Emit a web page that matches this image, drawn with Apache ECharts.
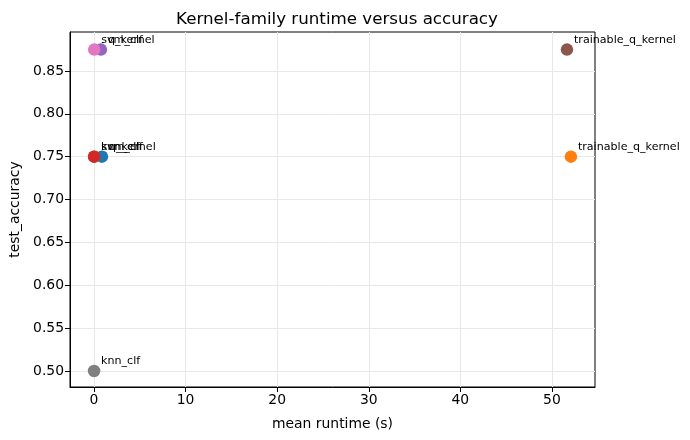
<!DOCTYPE html>
<html>
<head>
<meta charset="utf-8">
<script src="https://cdn.jsdelivr.net/npm/echarts@6/dist/echarts.min.js"></script>
<style>
  html, body { margin: 0; padding: 0; background: #fff; }
  #chart { width: 690px; height: 440px; }
</style>
</head>
<body>
<div id="chart"></div>
<script>
// one point per model run, in plotting order
var models = ['q_kernel', 'trainable_q_kernel', 'svm_clf', 'knn_clf',
              'q_kernel', 'trainable_q_kernel', 'svm_clf', 'knn_clf']
var runtimes = [0.87, 52.07, 0.02, 0.01, 0.76, 51.64, 0.02, 0.01]
var accuracies = [0.75, 0.75, 0.75, 0.75, 0.875, 0.875, 0.875, 0.5]
var xTicks = [0, 10, 20, 30, 40, 50]
var yTicks = [0.5, 0.55, 0.6, 0.65, 0.7, 0.75, 0.8, 0.85]

var palette = ['#1f77b4', '#ff7f0e', '#2ca02c', '#d62728',
               '#9467bd', '#8c564b', '#e377c2', '#7f7f7f']
var font = 'DejaVu Sans'

var chart = echarts.init(document.getElementById('chart'))

var points = runtimes.map(function (r, i) {
  return {
    name: models[i],
    value: [r, accuracies[i]],
    itemStyle: { color: palette[i % palette.length], opacity: 1 }
  }
})

var gridLine = { show: true, lineStyle: { color: '#e8e8e8', width: 1 } }

chart.setOption({
  animation: false,
  title: {
    text: 'Kernel-family runtime versus accuracy',
    left: 332, top: 6, textAlign: 'center',
    textStyle: { fontFamily: font, fontSize: 16.7, fontWeight: 'normal', color: '#000' }
  },
  grid: {
    left: 70, right: 95, top: 32, bottom: 53,
    show: true, borderColor: '#000', borderWidth: 1
  },
  xAxis: {
    type: 'value',
    min: -2.62, max: 54.7,
    name: 'mean runtime (s)',
    nameLocation: 'middle', nameGap: 30,
    nameTextStyle: { fontFamily: font, fontSize: 13.9, color: '#000' },
    axisLine: { show: true, onZero: false, lineStyle: { color: '#000' } },
    axisTick: { show: true, length: 5, customValues: xTicks, lineStyle: { color: '#000' } },
    axisLabel: {
      customValues: xTicks, margin: 6,
      fontFamily: font, fontSize: 13.9, color: '#000'
    },
    splitLine: gridLine
  },
  yAxis: {
    type: 'value',
    min: 0.4813, max: 0.8955,
    name: 'test_accuracy',
    nameLocation: 'middle', nameGap: 47,
    nameTextStyle: { fontFamily: font, fontSize: 13.9, color: '#000' },
    axisLine: { show: true, onZero: false, lineStyle: { color: '#000' } },
    axisTick: { show: true, length: 5, customValues: yTicks, lineStyle: { color: '#000' } },
    axisLabel: {
      customValues: yTicks, margin: 6,
      fontFamily: font, fontSize: 13.9, color: '#000',
      formatter: function (v) { return v.toFixed(2) }
    },
    splitLine: gridLine
  },
  series: [{
    type: 'scatter',
    symbolSize: 12.5,
    data: points,
    itemStyle: { opacity: 1 },
    label: {
      show: true,
      position: 'inside',
      align: 'left',
      verticalAlign: 'bottom',
      offset: [7, -4],
      formatter: '{b}',
      fontFamily: font, fontSize: 11.1, color: '#000', opacity: 1
    }
  }]
})
</script>
</body>
</html>
